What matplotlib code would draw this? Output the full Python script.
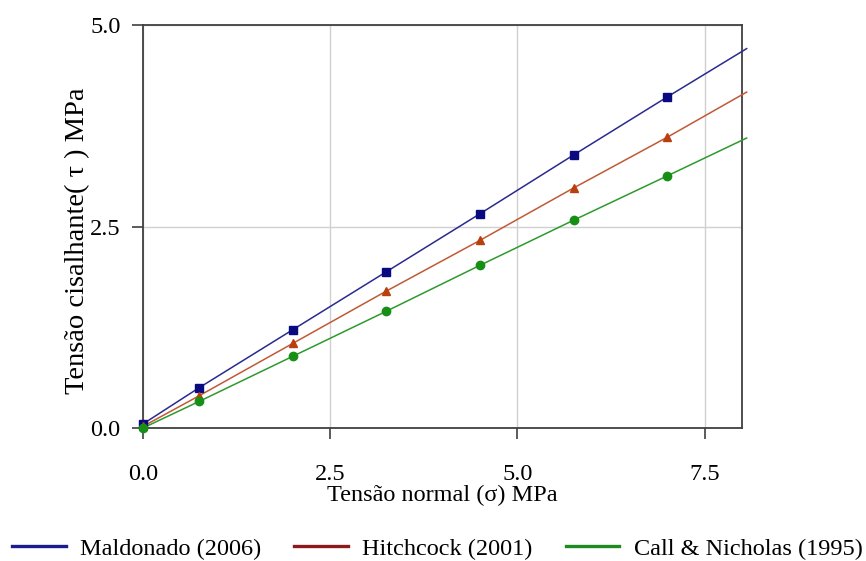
import numpy as np
import matplotlib
matplotlib.use('Agg')
import matplotlib.pyplot as plt

# Values
sigma = [0.0, 0.75, 2.0, 3.25, 4.5, 5.75, 7.0]
maldonado = [0.05, 0.50, 1.22, 1.94, 2.66, 3.39, 4.11]
hitchcock = [0.02, 0.40, 1.05, 1.70, 2.33, 2.98, 3.61]
call_nicholas = [0.00, 0.33, 0.89, 1.45, 2.02, 2.58, 3.13]

# end of the drawn envelopes, just past the right edge
sigma_end = 8.06
maldonado_end = 4.71
hitchcock_end = 4.17
call_nicholas_end = 3.60

labels = ['Maldonado (2006)', 'Hitchcock (2001)', 'Call & Nicholas (1995)']
x_ticks = [0.0, 2.5, 5.0, 7.5]
y_ticks = [0.0, 2.5, 5.0]

plt.rcParams['font.family'] = ['Liberation Serif', 'DejaVu Serif']

fig = plt.figure(figsize=(8.66, 5.61), dpi=100)
ax = fig.add_axes([0.165, 0.237, 0.692, 0.718])

series = [
    (maldonado, maldonado_end, '#2a2a90', '#0a0a80', 's', '#1c1c8c'),
    (hitchcock, hitchcock_end, '#c05a35', '#b8400f', '^', '#8b1a1a'),
    (call_nicholas, call_nicholas_end, '#2e9a2e', '#159015', 'o', '#1f8a1f'),
]

handles = []
for (vals, end, lcol, mcol, mk, legcol), lab in zip(series, labels):
    xs = sigma + [sigma_end]
    ys = vals + [end]
    ax.plot(xs, ys, color=lcol, lw=1.1, clip_on=False, zorder=3)
    ax.plot(sigma, vals, ls='none', marker=mk, color=mcol, ms=6,
            clip_on=False, zorder=4)
    h, = ax.plot([], [], color=legcol, lw=2.4, label=lab)
    handles.append(h)

ax.set_xlim(0, 8)
ax.set_ylim(0, 5)
ax.set_xticks(x_ticks)
ax.set_yticks(y_ticks)
ax.set_xticklabels([f'{v:.1f}' for v in x_ticks])
ax.set_yticklabels([f'{v:.1f}' for v in y_ticks])
ax.grid(True, color='#d0d0d0', lw=1.0)
ax.set_axisbelow(True)

for sp in ax.spines.values():
    sp.set_color('#404040')
    sp.set_linewidth(1.3)

ax.tick_params(axis='x', direction='out', length=8, width=1.2,
               color='#404040', labelsize=17.5, pad=18)
ax.tick_params(axis='y', direction='out', length=8, width=1.2,
               color='#404040', labelsize=17.5, pad=8)

ax.set_xlabel('Tensão normal (σ) MPa', fontsize=17.5, labelpad=0)
ax.set_ylabel('Tensão cisalhante( τ ) MPa', fontsize=20.5)
ax.yaxis.set_label_coords(-0.088, 0.466)

fig.legend(handles=handles, loc='lower center', ncol=3, frameon=False,
           fontsize=17.5, handlelength=2.2, handletextpad=0.6,
           columnspacing=1.35, bbox_to_anchor=(0.505, -0.037))

fig.savefig('out.png', dpi=100)
